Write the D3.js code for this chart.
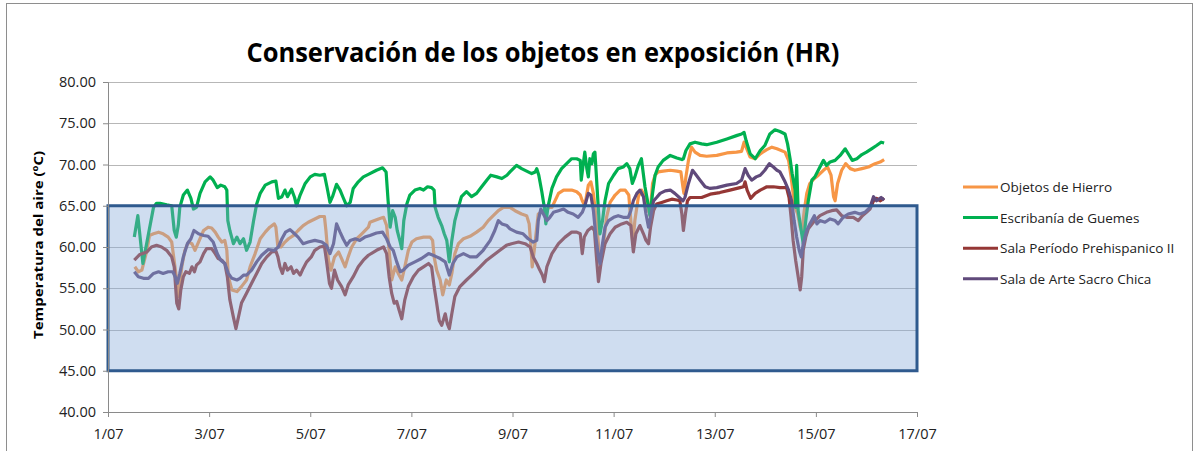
<!DOCTYPE html>
<html>
<head>
<meta charset="utf-8">
<script src="https://cdn.jsdelivr.net/npm/d3@7"></script>
<style>
  body { margin: 0; background: #fff; }
  text { font-family: "Open Sans", sans-serif; fill: #222; }
</style>
</head>
<body>
<div id="container"></div>
<script>
const width = 1199,
  height = 451,
  margin = { top: 82, bottom: 39, left: 108, right: 282 };

const seriesNames = ["Objetos de Hierro", "Escribanía de Guemes", "Sala Período Prehispanico II", "Sala de Arte Sacro Chica"];
const seriesColors = ["#f79646", "#00b050", "#953735", "#604a7b"];
const yTicks = [40, 45, 50, 55, 60, 65, 70, 75, 80];
const xTickDays = [1, 3, 5, 7, 9, 11, 13, 15, 17];
const okBand = [45, 65];

// [day of July, value]
const objetosHierro = [
  [1.53,57.6],[1.60,57.0],[1.67,57.2],[1.77,59.6],[1.82,61.4],[1.90,61.6],[2.00,61.8],[2.09,61.6],[2.19,61.2],[2.26,60.6],
  [2.29,59.2],[2.35,56.4],[2.39,54.0],[2.46,57.6],[2.52,59.6],[2.59,60.6],[2.66,60.4],[2.72,59.6],[2.79,60.6],[2.89,62.0],
  [2.98,62.4],[3.05,62.3],[3.12,61.8],[3.18,61.2],[3.25,60.6],[3.31,60.8],[3.35,59.6],[3.38,56.4],[3.45,54.8],[3.55,54.6],
  [3.64,55.2],[3.74,56.0],[3.81,57.6],[3.91,59.2],[4.01,61.0],[4.11,61.8],[4.20,62.4],[4.29,62.8],[4.32,62.4],[4.36,60.0],
  [4.42,60.0],[4.50,60.6],[4.57,61.0],[4.67,61.4],[4.76,62.0],[4.86,62.6],[4.96,63.0],[5.09,63.4],[5.19,63.7],[5.28,63.7],
  [5.31,62.0],[5.36,58.4],[5.41,57.2],[5.48,58.8],[5.56,59.4],[5.62,58.6],[5.69,57.6],[5.75,58.8],[5.82,60.0],[5.92,61.0],
  [6.02,61.6],[6.15,62.4],[6.18,63.0],[6.35,63.4],[6.45,63.6],[6.51,62.6],[6.56,59.6],[6.61,56.0],[6.68,57.6],[6.74,56.8],
  [6.81,56.0],[6.87,57.6],[6.94,59.6],[7.01,60.6],[7.10,61.0],[7.24,61.2],[7.37,61.2],[7.42,60.8],[7.45,58.8],[7.50,57.2],
  [7.57,56.0],[7.62,54.2],[7.69,56.0],[7.75,55.4],[7.80,56.8],[7.86,59.2],[7.93,60.4],[8.03,61.0],[8.16,61.3],[8.29,61.8],
  [8.42,62.4],[8.52,63.2],[8.62,63.8],[8.72,64.4],[8.82,64.8],[8.95,64.8],[9.05,64.4],[9.18,64.0],[9.28,63.8],[9.33,62.8],
  [9.37,59.6],[9.39,57.6],[9.43,59.6],[9.48,62.4],[9.51,64.0],[9.61,64.4],[9.66,64.0],[9.71,64.8],[9.78,64.8],[9.84,65.6],
  [9.91,66.5],[10.01,66.9],[10.17,66.9],[10.27,66.7],[10.34,66.3],[10.38,65.6],[10.43,65.0],[10.50,67.5],[10.55,67.9],[10.60,66.5],
  [10.66,63.2],[10.71,59.6],[10.75,58.4],[10.80,60.4],[10.86,63.6],[10.93,65.4],[11.03,66.3],[11.13,66.9],[11.23,66.9],[11.30,66.3],
  [11.34,63.2],[11.38,60.4],[11.42,63.2],[11.49,66.1],[11.55,66.9],[11.59,66.5],[11.64,65.2],[11.69,64.4],[11.72,63.8],[11.77,67.7],
  [11.82,68.7],[11.88,69.1],[11.98,69.2],[12.12,69.3],[12.25,69.2],[12.33,69.1],[12.37,67.3],[12.39,66.5],[12.43,68.5],[12.48,70.5],
  [12.54,72.1],[12.61,71.5],[12.71,71.1],[12.84,71.0],[13.04,71.1],[13.24,71.4],[13.43,71.5],[13.53,71.6],[13.58,72.7],[13.62,72.1],
  [13.70,70.9],[13.80,70.7],[13.90,71.3],[14.03,71.8],[14.13,72.1],[14.23,71.9],[14.39,71.5],[14.46,70.5],[14.51,68.5],[14.55,66.5],
  [14.59,64.8],[14.64,64.0],[14.69,62.4],[14.72,61.8],[14.77,64.4],[14.82,66.5],[14.88,67.7],[14.97,68.3],[15.05,68.7],[15.15,69.3],
  [15.23,69.7],[15.30,68.7],[15.35,66.1],[15.38,65.6],[15.43,67.7],[15.51,69.3],[15.59,70.1],[15.68,69.5],[15.77,69.3],[15.91,69.5],
  [16.04,69.7],[16.17,70.1],[16.27,70.3],[16.35,70.6]
];

const escribania = [
  [1.52,61.2],[1.59,63.8],[1.69,58.0],[1.90,64.8],[1.96,65.3],[2.03,65.3],[2.16,65.1],[2.26,65.0],[2.31,62.0],[2.35,61.2],
  [2.39,62.6],[2.42,64.8],[2.49,66.3],[2.57,66.9],[2.64,65.9],[2.69,64.6],[2.75,64.8],[2.82,66.5],[2.92,67.9],[3.02,68.5],
  [3.08,68.1],[3.16,67.2],[3.23,67.5],[3.31,67.3],[3.35,66.9],[3.37,63.2],[3.41,62.0],[3.48,60.4],[3.55,61.2],[3.61,60.4],
  [3.68,61.0],[3.74,59.6],[3.81,60.6],[3.88,63.2],[3.94,65.2],[4.01,66.5],[4.11,67.5],[4.24,67.9],[4.32,68.0],[4.37,65.9],
  [4.44,66.1],[4.50,66.9],[4.55,66.1],[4.63,67.0],[4.69,66.0],[4.73,65.0],[4.80,66.3],[4.90,67.7],[5.00,68.5],[5.09,68.8],
  [5.19,68.7],[5.28,68.8],[5.33,67.3],[5.39,65.4],[5.44,66.1],[5.52,67.6],[5.59,66.9],[5.65,66.0],[5.72,65.0],[5.79,65.4],
  [5.85,67.1],[5.95,67.9],[6.05,68.5],[6.15,68.8],[6.31,69.3],[6.43,69.6],[6.50,69.1],[6.54,65.6],[6.58,62.4],[6.63,64.4],
  [6.68,63.6],[6.72,62.0],[6.78,60.6],[6.81,59.8],[6.85,63.2],[6.91,65.2],[6.97,66.3],[7.07,66.9],[7.17,67.1],[7.24,66.9],
  [7.32,67.3],[7.40,67.2],[7.45,66.9],[7.47,64.8],[7.53,63.6],[7.60,62.6],[7.65,61.6],[7.70,60.8],[7.75,58.2],[7.80,60.8],
  [7.86,63.2],[7.93,64.8],[7.99,66.1],[8.09,66.7],[8.19,66.1],[8.29,66.5],[8.39,67.3],[8.49,68.1],[8.57,68.7],[8.69,68.5],
  [8.79,68.3],[8.89,68.7],[8.95,69.1],[9.08,69.9],[9.18,69.5],[9.28,69.2],[9.38,68.9],[9.45,69.1],[9.48,69.5],[9.52,68.7],
  [9.58,66.7],[9.63,64.8],[9.66,62.8],[9.70,64.8],[9.78,67.1],[9.87,68.5],[9.97,69.5],[10.07,70.1],[10.17,70.7],[10.27,70.7],
  [10.34,70.5],[10.36,68.1],[10.40,70.1],[10.43,71.5],[10.47,69.5],[10.50,68.5],[10.53,70.7],[10.57,70.1],[10.60,71.3],[10.63,71.5],
  [10.66,68.5],[10.70,64.4],[10.73,61.6],[10.78,63.2],[10.83,65.6],[10.90,67.7],[11.00,68.7],[11.09,69.5],[11.19,69.7],[11.26,70.1],
  [11.32,69.5],[11.37,67.7],[11.42,68.5],[11.49,69.9],[11.55,70.7],[11.57,69.7],[11.62,67.3],[11.67,65.6],[11.72,63.8],[11.77,66.5],
  [11.82,68.7],[11.88,69.7],[11.98,70.5],[12.12,71.1],[12.25,70.8],[12.35,70.6],[12.38,70.7],[12.43,71.7],[12.51,72.5],[12.61,72.7],
  [12.74,72.5],[12.84,72.4],[13.04,72.7],[13.24,73.1],[13.43,73.5],[13.53,73.7],[13.58,73.9],[13.62,72.9],[13.70,71.3],[13.80,70.7],
  [13.90,71.7],[13.99,72.3],[14.09,73.7],[14.19,74.2],[14.29,74.0],[14.39,73.7],[14.44,72.5],[14.49,70.7],[14.53,68.9],[14.59,66.9],
  [14.60,64.8],[14.62,69.9],[14.65,64.4],[14.72,61.6],[14.75,60.4],[14.80,63.2],[14.85,65.6],[14.92,68.1],[14.98,68.5],[15.08,69.7],
  [15.15,70.5],[15.21,69.9],[15.28,70.3],[15.38,70.5],[15.48,71.1],[15.58,71.9],[15.64,71.3],[15.72,70.5],[15.81,70.7],[15.91,71.2],
  [16.00,71.5],[16.10,71.9],[16.20,72.3],[16.29,72.7],[16.35,72.6]
];

const salaPrehispanico = [
  [1.52,58.4],[1.63,59.1],[1.77,59.4],[1.86,60.0],[1.96,60.2],[2.06,60.0],[2.16,59.6],[2.26,58.8],[2.31,57.6],[2.36,53.2],
  [2.40,52.5],[2.44,54.8],[2.49,56.4],[2.54,57.0],[2.61,56.8],[2.66,57.6],[2.71,57.0],[2.75,57.8],[2.82,58.2],[2.89,59.2],
  [2.95,59.8],[3.05,59.8],[3.12,59.2],[3.18,58.6],[3.25,58.4],[3.31,58.0],[3.36,56.4],[3.41,53.6],[3.48,51.5],[3.53,50.1],
  [3.58,51.5],[3.64,53.2],[3.74,54.4],[3.84,55.6],[3.94,56.8],[4.04,58.0],[4.14,58.8],[4.24,59.4],[4.32,59.5],[4.36,58.8],
  [4.40,57.6],[4.45,56.8],[4.50,58.0],[4.55,57.2],[4.62,57.6],[4.67,56.8],[4.73,57.2],[4.80,56.6],[4.86,57.4],[4.93,58.2],
  [5.02,58.8],[5.09,59.6],[5.19,60.0],[5.28,60.1],[5.32,58.4],[5.38,55.6],[5.42,55.0],[5.48,57.2],[5.54,56.0],[5.62,55.2],
  [5.69,54.2],[5.75,55.4],[5.85,56.4],[5.95,57.6],[6.05,58.4],[6.15,59.0],[6.31,59.6],[6.45,60.0],[6.51,59.2],[6.56,56.4],
  [6.61,54.4],[6.66,53.2],[6.71,53.4],[6.76,52.3],[6.81,51.3],[6.87,53.6],[6.94,55.2],[7.04,56.4],[7.14,57.2],[7.24,57.6],
  [7.34,58.0],[7.40,57.6],[7.45,55.2],[7.50,53.2],[7.55,51.1],[7.60,50.5],[7.67,51.9],[7.71,50.7],[7.75,50.1],[7.80,51.9],
  [7.86,54.0],[7.96,55.2],[8.09,56.0],[8.23,56.8],[8.36,57.6],[8.49,58.4],[8.62,59.0],[8.75,59.6],[8.88,60.2],[8.98,60.4],
  [9.12,60.6],[9.25,60.4],[9.35,60.0],[9.41,58.8],[9.48,58.0],[9.54,57.2],[9.59,56.6],[9.63,55.8],[9.68,57.6],[9.78,59.2],
  [9.91,60.4],[10.04,61.2],[10.17,61.8],[10.27,61.8],[10.34,61.6],[10.38,59.2],[10.42,61.2],[10.49,62.0],[10.57,62.4],[10.62,62.0],
  [10.66,58.8],[10.70,55.8],[10.75,58.0],[10.83,60.4],[10.93,61.6],[11.03,62.4],[11.16,62.8],[11.26,63.0],[11.34,62.6],[11.39,59.4],
  [11.44,61.6],[11.52,62.6],[11.59,61.6],[11.64,60.8],[11.69,60.4],[11.73,62.4],[11.79,64.4],[11.85,65.2],[11.95,65.4],[12.05,65.6],
  [12.15,65.8],[12.25,65.7],[12.31,65.6],[12.35,64.0],[12.38,62.0],[12.42,64.0],[12.46,65.6],[12.51,66.0],[12.61,66.0],[12.74,66.0],
  [12.91,66.4],[13.10,66.6],[13.30,66.9],[13.50,67.2],[13.57,67.3],[13.60,67.9],[13.64,66.9],[13.71,65.9],[13.80,66.5],[13.90,66.9],
  [14.03,67.3],[14.16,67.3],[14.29,67.2],[14.42,67.2],[14.47,66.0],[14.51,63.6],[14.55,60.8],[14.60,58.4],[14.64,56.8],[14.69,54.8],
  [14.72,56.4],[14.75,59.6],[14.80,61.2],[14.85,62.2],[14.95,63.0],[15.08,63.8],[15.21,64.2],[15.31,64.4],[15.41,64.5],[15.51,63.8],
  [15.61,63.6],[15.74,63.6],[15.84,63.2],[15.92,63.8],[16.00,64.2],[16.07,64.6],[16.14,65.6],[16.20,65.9],[16.27,65.6],[16.35,65.9]
];

const salaArteSacro = [
  [1.52,57.0],[1.60,56.4],[1.70,56.2],[1.80,56.2],[1.90,56.8],[2.00,57.0],[2.09,56.8],[2.19,57.0],[2.28,57.0],[2.33,56.4],
  [2.37,55.6],[2.42,56.8],[2.49,58.8],[2.57,60.4],[2.64,61.0],[2.70,62.0],[2.79,61.6],[2.89,61.4],[2.98,61.3],[3.08,60.6],
  [3.16,59.2],[3.23,58.4],[3.31,58.0],[3.38,56.8],[3.45,56.2],[3.55,56.0],[3.61,56.2],[3.68,56.6],[3.74,56.6],[3.84,57.2],
  [3.94,58.2],[4.04,59.0],[4.17,59.7],[4.29,59.6],[4.37,60.0],[4.44,61.0],[4.51,61.8],[4.60,62.1],[4.69,61.6],[4.76,61.2],
  [4.86,60.4],[4.96,60.6],[5.09,60.8],[5.23,60.6],[5.32,60.2],[5.39,59.2],[5.46,60.4],[5.52,62.8],[5.59,61.8],[5.65,61.0],
  [5.72,60.2],[5.79,60.8],[5.89,61.0],[5.98,60.8],[6.08,61.2],[6.18,61.4],[6.31,61.7],[6.43,61.8],[6.51,61.0],[6.58,60.0],
  [6.64,59.6],[6.71,58.2],[6.78,57.0],[6.84,57.2],[6.94,57.8],[7.07,58.2],[7.20,58.6],[7.34,59.2],[7.43,59.0],[7.50,58.8],
  [7.57,58.6],[7.67,58.2],[7.75,56.6],[7.82,58.0],[7.90,58.8],[8.03,59.2],[8.16,58.8],[8.29,58.8],[8.42,59.6],[8.56,60.8],
  [8.65,62.0],[8.72,63.2],[8.79,62.8],[8.89,62.6],[8.95,62.2],[9.08,61.8],[9.21,61.6],[9.31,61.0],[9.41,60.6],[9.48,60.8],
  [9.51,63.2],[9.56,64.6],[9.61,64.0],[9.68,63.2],[9.74,63.6],[9.81,64.2],[9.91,64.4],[10.01,64.6],[10.10,64.2],[10.20,64.0],
  [10.30,63.6],[10.38,64.2],[10.43,65.0],[10.50,66.5],[10.55,66.3],[10.60,64.4],[10.65,61.2],[10.70,58.8],[10.73,58.0],[10.78,60.4],
  [10.83,62.4],[10.90,63.2],[11.00,63.6],[11.09,63.8],[11.19,63.6],[11.29,63.6],[11.34,64.4],[11.39,65.6],[11.46,66.5],[11.52,66.9],
  [11.59,66.1],[11.64,64.0],[11.69,62.4],[11.73,63.6],[11.79,65.6],[11.85,66.0],[11.92,66.5],[12.02,66.8],[12.12,66.9],[12.21,66.5],
  [12.30,66.0],[12.37,65.6],[12.41,66.0],[12.48,67.7],[12.56,69.3],[12.61,68.9],[12.71,68.1],[12.81,67.3],[12.91,67.1],[13.04,67.2],
  [13.24,67.5],[13.43,67.7],[13.53,68.1],[13.60,69.5],[13.66,68.7],[13.73,68.1],[13.82,68.5],[13.90,68.7],[13.99,69.3],[14.08,70.1],
  [14.16,69.7],[14.23,69.3],[14.29,69.1],[14.39,67.9],[14.46,66.9],[14.52,65.6],[14.57,63.2],[14.62,61.2],[14.67,59.6],[14.71,58.8],
  [14.75,60.4],[14.82,62.0],[14.88,62.8],[14.97,63.8],[15.02,62.8],[15.08,63.2],[15.18,63.0],[15.28,63.4],[15.38,63.2],[15.44,62.8],
  [15.54,63.6],[15.64,64.0],[15.77,64.2],[15.87,64.0],[15.97,64.2],[16.07,64.8],[16.14,66.1],[16.20,65.6],[16.29,66.0],[16.35,65.7]
];

const allSeries = [objetosHierro, escribania, salaPrehispanico, salaArteSacro];

const dayToDate = d => new Date(new Date(2010, 6, 1).getTime() + (d - 1) * 864e5);

const xScale = d3.scaleTime()
  .domain([dayToDate(1), dayToDate(17)])
  .range([margin.left, width - margin.right]);

const yScale = d3.scaleLinear()
  .domain([40, 80])
  .range([height - margin.bottom, margin.top]);

const svg = d3.select("#container")
  .append("svg")
  .attr("width", width)
  .attr("height", height)
  .style("display", "block");

svg.append("rect")
  .attr("x", 6.5).attr("y", 3.5)
  .attr("width", 1186).attr("height", 470)
  .attr("fill", "none")
  .attr("stroke", "#8e8e8e")
  .attr("stroke-width", 1);

// gridlines
svg.append("g")
  .selectAll("line")
  .data(yTicks.filter(t => t > 40))
  .join("line")
  .attr("x1", xScale.range()[0])
  .attr("x2", xScale.range()[1])
  .attr("y1", d => Math.round(yScale(d)) + 0.5)
  .attr("y2", d => Math.round(yScale(d)) + 0.5)
  .attr("stroke", "#b7b7b7")
  .attr("stroke-width", 1.2);

const line = d3.line()
  .x(d => xScale(dayToDate(d[0])))
  .y(d => yScale(d[1]))
  .curve(d3.curveLinear);

svg.append("g")
  .selectAll("path")
  .data(allSeries)
  .join("path")
  .attr("d", line)
  .attr("fill", "none")
  .attr("stroke", (d, i) => seriesColors[i])
  .attr("stroke-width", 3.2)
  .attr("stroke-linejoin", "round");

// acceptable band
svg.append("rect")
  .attr("x", xScale.range()[0])
  .attr("y", yScale(okBand[1]))
  .attr("width", xScale.range()[1] - xScale.range()[0])
  .attr("height", yScale(okBand[0]) - yScale(okBand[1]))
  .attr("fill", "rgb(135,169,217)")
  .attr("fill-opacity", 0.4)
  .attr("stroke", "#2f5a8e")
  .attr("stroke-width", 3);

const yAxis = d3.axisLeft(yScale)
  .tickValues(yTicks)
  .tickFormat(d3.format(".2f"))
  .tickSize(5)
  .tickPadding(7);

const xAxis = d3.axisBottom(xScale)
  .tickValues(xTickDays.map(dayToDate))
  .tickFormat(d3.timeFormat("%-d/%m"))
  .tickSize(5)
  .tickPadding(12);

const yAxisGroup = svg.append("g")
  .attr("transform", `translate(${margin.left},0)`)
  .call(yAxis);

const xAxisGroup = svg.append("g")
  .attr("transform", `translate(0,${height - margin.bottom})`)
  .call(xAxis);

[yAxisGroup, xAxisGroup].forEach(g => {
  g.select(".domain").attr("stroke", "#8a8a8a");
  g.selectAll(".tick line").attr("stroke", "#8a8a8a");
  g.selectAll(".tick text")
    .style("font-family", "'Open Sans', sans-serif")
    .style("font-size", "14.5px")
    .attr("fill", "#333");
});

svg.append("text")
  .attr("class", "title")
  .attr("text-anchor", "middle")
  .attr("x", 543)
  .attr("y", 62)
  .attr("textLength", 593)
  .attr("lengthAdjust", "spacingAndGlyphs")
  .style("font-size", "26px")
  .style("font-weight", "bold")
  .style("fill", "#000")
  .text("Conservación de los objetos en exposición (HR)");

svg.append("text")
  .attr("class", "y label")
  .attr("text-anchor", "middle")
  .attr("transform", "translate(43,245) rotate(-90)")
  .attr("textLength", 188)
  .attr("lengthAdjust", "spacingAndGlyphs")
  .style("font-size", "13px")
  .style("font-weight", "bold")
  .style("fill", "#000")
  .text("Temperatura del aire (ºC)");

const legend = svg.append("g")
  .attr("transform", "translate(963,187)");

const legendItems = legend.selectAll("g")
  .data(seriesNames)
  .join("g")
  .attr("transform", (d, i) => `translate(0,${i * 30.6})`);

legendItems.append("line")
  .attr("x1", 0).attr("x2", 35)
  .attr("y1", 0).attr("y2", 0)
  .attr("stroke", (d, i) => seriesColors[i])
  .attr("stroke-width", 3);

legendItems.append("text")
  .attr("x", 37)
  .attr("y", 5)
  .style("font-size", "13.5px")
  .text(d => d);
</script>
</body>
</html>
